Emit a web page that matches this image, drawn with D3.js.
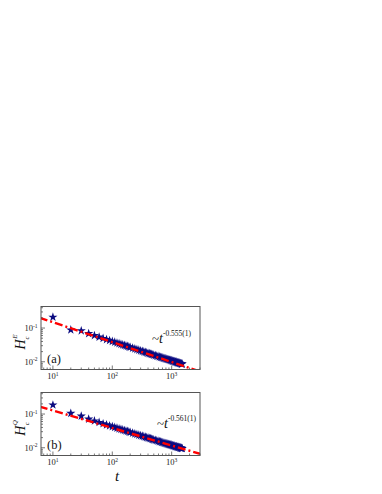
<!DOCTYPE html>
<html><head><meta charset="utf-8">
<script src="https://cdn.jsdelivr.net/npm/d3@7"></script>
<style>html,body{margin:0;padding:0;background:#fff;} svg{display:block;}</style>
</head><body>
<script>
const tValues = [10,20,30,40,50,60,70,80,90,100,110,120,130,140,150,160,170,180,190,200,220,240,260,280,300,
 320,340,360,380,400,420,440,460,480,500,530,560,590,620,650,680,710,740,770,800,830,860,890,920,950,
 980,1010,1040,1070,1100,1130,1160,1190,1220,1250,1280,1310,1340,1370,1400,1430,1460,1490,1500];
const HE = [0.21,0.088,0.083,0.0684,0.0601,0.0541,0.0494,0.0457,0.0428,0.0402,0.0381,0.0361,0.0345,0.0330,0.0318,0.0306,0.0295,0.0286,0.0277,0.0269,0.0255,0.0242,0.0231,0.0221,0.0212,
 0.0204,0.0197,0.0191,0.0185,0.0179,0.0175,0.0170,0.0166,0.0162,0.0158,0.0153,0.0148,0.0144,0.0140,0.0136,0.0133,0.0130,0.0127,0.0124,0.0122,0.0119,0.0117,0.0115,0.0113,0.0111,
 0.0109,0.0107,0.0105,0.0104,0.0102,0.0100,0.00989,0.00975,0.00962,0.00949,0.00936,0.00924,0.00913,0.00902,0.00891,0.00881,0.00871,0.00861,0.00858];
const HQ = [0.186,0.105,0.087,0.0708,0.0625,0.0564,0.0517,0.0480,0.0450,0.0424,0.0402,0.0383,0.0366,0.0351,0.0338,0.0326,0.0315,0.0305,0.0296,0.0287,0.0272,0.0259,0.0248,0.0238,0.0229,
 0.0221,0.0214,0.0207,0.0201,0.0196,0.0190,0.0186,0.0181,0.0176,0.0172,0.0167,0.0162,0.0157,0.0153,0.0149,0.0145,0.0142,0.0139,0.0136,0.0133,0.0131,0.0128,0.0126,0.0124,0.0122,
 0.0120,0.0118,0.0116,0.0114,0.0113,0.0111,0.0109,0.0108,0.0107,0.0105,0.0104,0.0103,0.0102,0.0100,0.00991,0.00980,0.00969,0.00959,0.00955];
const fitT = [6, 3000];
const fitE = [0.201, 0.00514];
const fitQ = [0.166, 0.0066];
const xTicks = [10, 100, 1000];
const yTicks = [0.1, 0.01];
const panelLabels = ["(a)", "(b)"];
const superLabels = ["E", "Q"];
const exponents = ["-0.555(1)", "-0.561(1)"];

const W = 382, H = 494;
const svg = d3.select("body").append("svg").attr("width", W).attr("height", H);
const serif = "'Liberation Serif','Times New Roman',serif";

const panels = [
  {top: 306.5, bottom: 369.5, y: HE, fit: fitE, label: panelLabels[0], sup: superLabels[0], exp: exponents[0], annX: 152, annY: 343},
  {top: 392.5, bottom: 455.5, y: HQ, fit: fitQ, label: panelLabels[1], sup: superLabels[1], exp: exponents[1], annX: 157, annY: 428}
];
const left = 41, right = 200;
const x = d3.scaleLog().domain([6.3, 3000]).range([left, right]);

panels.forEach((p, i) => {
  const y = d3.scaleLog().domain([0.0059, 0.435]).range([p.bottom, p.top]);
  const g = svg.append("g");
  const clipId = "clip" + i;
  svg.append("clipPath").attr("id", clipId).append("rect")
    .attr("x", left).attr("y", p.top).attr("width", right - left).attr("height", p.bottom - p.top);

  // stars
  const star = d3.symbol().type(d3.symbolStar).size(26);
  g.append("g").selectAll("path").data(tValues).join("path")
    .attr("d", star)
    .attr("transform", (d, j) => `translate(${x(d)},${y(p.y[j])})`)
    .attr("fill", "#0b0b80");

  // fit line
  const line = d3.line().x(d => x(d[0])).y(d => y(d[1]));
  g.append("path").datum(fitT.map((t, j) => [t, p.fit[j]]))
    .attr("clip-path", `url(#${clipId})`)
    .attr("d", line).attr("fill", "none").attr("stroke", "#ff0000")
    .attr("stroke-width", 2.4).attr("stroke-dasharray", "8,3,2,3");

  // frame
  g.append("rect").attr("x", left).attr("y", p.top).attr("width", right - left).attr("height", p.bottom - p.top)
    .attr("fill", "none").attr("stroke", "#555").attr("stroke-width", 1);

  // x ticks (inward)
  const xMinor = [];
  for (let dec = 1; dec <= 1000; dec *= 10) for (let k = 1; k <= 9; k++) {
    const v = dec * k; if (v >= 6.3 && v <= 3000) xMinor.push(v);
  }
  g.append("g").selectAll("line").data(xMinor).join("line")
    .attr("x1", d => x(d)).attr("x2", d => x(d))
    .attr("y1", p.bottom).attr("y2", d => p.bottom - (xTicks.includes(d) ? 4 : 2))
    .attr("stroke", "#555").attr("stroke-width", 0.8);
  const xl = g.append("g").selectAll("text").data(xTicks).join("text")
    .attr("x", d => x(d)).attr("y", p.bottom + 9.5)
    .attr("text-anchor", "middle").attr("font-family", serif).attr("font-size", 8.5).attr("fill", "#222");
  xl.append("tspan").text("10");
  xl.append("tspan").attr("dy", -3.5).attr("font-size", 5.5).text(d => Math.round(Math.log10(d)));

  // y ticks
  const yMinor = [];
  for (let dec = 0.001; dec <= 0.1; dec *= 10) for (let k = 1; k <= 9; k++) {
    const v = dec * k; if (v >= 0.0059 && v <= 0.435) yMinor.push(v);
  }
  g.append("g").selectAll("line").data(yMinor).join("line")
    .attr("y1", d => y(d)).attr("y2", d => y(d))
    .attr("x1", left).attr("x2", d => left + (yTicks.some(t => Math.abs(t - d) < 1e-9) ? 4 : 2))
    .attr("stroke", "#555").attr("stroke-width", 0.8);
  const yl = g.append("g").selectAll("text").data(yTicks).join("text")
    .attr("x", left - 3.5).attr("y", d => y(d) + 3)
    .attr("text-anchor", "end").attr("font-family", serif).attr("font-size", 8.5).attr("fill", "#222");
  yl.append("tspan").text("10");
  yl.append("tspan").attr("dy", -3.5).attr("font-size", 5.5).text(d => Math.round(Math.log10(d)));

  // panel label
  g.append("text").attr("x", 47).attr("y", p.bottom - 7)
    .attr("font-family", serif).attr("font-size", 12.5).attr("fill", "#111").text(p.label);

  // annotation
  const ann = g.append("text").attr("x", p.annX).attr("y", p.annY)
    .attr("font-family", serif).attr("fill", "#111");
  ann.append("tspan").attr("font-size", 13).text("~");
  ann.append("tspan").attr("font-size", 14).attr("font-style", "italic").text("t");
  ann.append("tspan").attr("font-size", 7.5).attr("dy", -7).text(p.exp);

  // y-axis label
  const cy = (p.top + p.bottom) / 2 + 4;
  const lab = g.append("text").attr("transform", `translate(25,${cy}) rotate(-90)`)
    .attr("text-anchor", "middle").attr("font-family", serif).attr("fill", "#111");
  lab.append("tspan").attr("font-size", 14).attr("font-style", "italic").text("H");
  lab.append("tspan").attr("font-size", 7).attr("font-style", "italic").attr("dy", -8).attr("dx", 0.5).text(p.sup);
  lab.append("tspan").attr("font-size", 7).attr("font-style", "italic").attr("dy", 12).attr("dx", -5).text("c");
});

svg.append("text").attr("x", 117).attr("y", 481).attr("text-anchor", "middle")
  .attr("font-family", serif).attr("font-size", 15).attr("font-style", "italic").attr("fill", "#111").text("t");
</script>
</body></html>
